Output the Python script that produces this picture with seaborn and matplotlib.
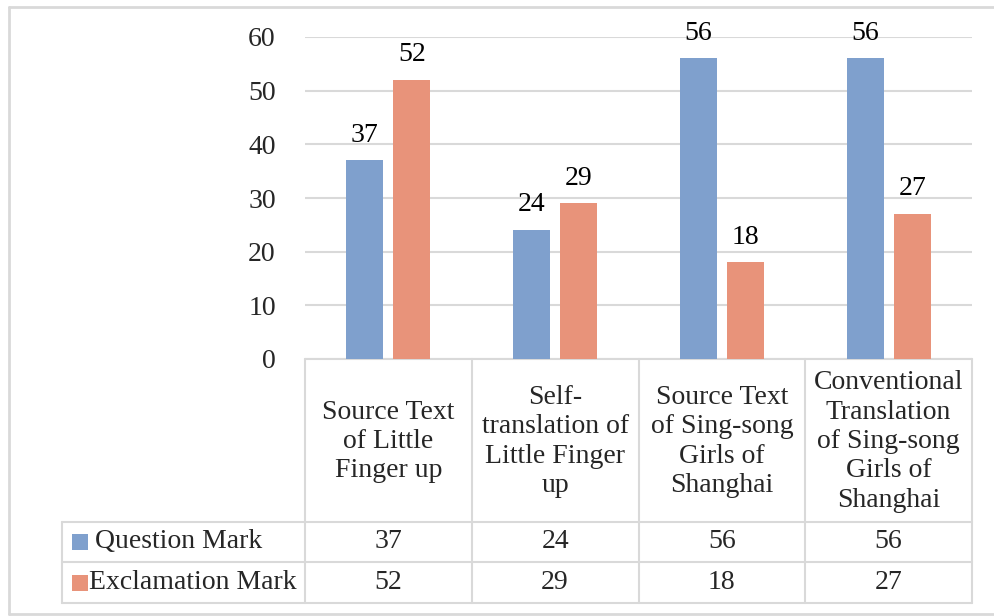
import matplotlib
matplotlib.use("Agg")
import matplotlib.pyplot as plt
import seaborn as sns
import pandas as pd

categories = [
    "Source Text\nof Little\nFinger up",
    "Self-\ntranslation of\nLittle Finger\nup",
    "Source Text\nof Sing-song\nGirls of\nShanghai",
    "Conventional\nTranslation\nof Sing-song\nGirls of\nShanghai",
]
series_names = ["Question Mark", "Exclamation Mark"]
question_mark = [37, 24, 56, 56]
exclamation_mark = [52, 29, 18, 27]
yticks = [0, 10, 20, 30, 40, 50, 60]
colors = ["#7FA0CD", "#E8937A"]

sns.set_theme(style="white")
plt.rcParams["font.family"] = ["Liberation Serif", "DejaVu Serif"]
FS = 20

W, H = 995, 616
fig = plt.figure(figsize=(W / 100, H / 100), dpi=100)

# overlay axes in pixel coordinates for frame and table
ov = fig.add_axes([0, 0, 1, 1], zorder=0)
ov.set_xlim(0, W)
ov.set_ylim(H, 0)
ov.axis("off")

px_l, px_r, px_t, px_b = 305, 972, 37, 359
ax = fig.add_axes([px_l / W, 1 - px_b / H, (px_r - px_l) / W, (px_b - px_t) / H], zorder=2)
ax.patch.set_alpha(0)

df = pd.DataFrame({
    "cat": list(range(len(categories))) * 2,
    "series": [series_names[0]] * len(categories) + [series_names[1]] * len(categories),
    "value": question_mark + exclamation_mark,
})
sns.barplot(data=df, x="cat", y="value", hue="series", hue_order=series_names,
            palette=colors, width=0.564, gap=0.213, saturation=1, ax=ax,
            legend=False, edgecolor="none", zorder=3)

ax.set_xlim(-0.5, len(categories) - 0.5)
ax.set_ylim(0, 60)
ax.set_yticks(yticks)
ax.set_yticklabels([str(v) for v in yticks], fontsize=FS)
ax.tick_params(axis="y", length=0, pad=21)
ax.set_xticks([])
ax.set_xlabel("")
ax.set_ylabel("")
for s in ax.spines.values():
    s.set_visible(False)
ax.grid(axis="y", color="#d9d9d9", linewidth=1.5, zorder=0)
ax.set_axisbelow(True)

for cont in ax.containers:
    for bar in cont:
        h = bar.get_height()
        ax.annotate(f"{int(round(h))}", (bar.get_x() + bar.get_width() / 2, h),
                    xytext=(0, 13.5), textcoords="offset points",
                    ha="center", va="baseline", fontsize=FS, color="#000000",
                    annotation_clip=False)

lc = "#d9d9d9"
# outer frame
ov.plot([9, 9], [7, 614], color=lc, lw=2)
ov.plot([9, W], [7, 7], color=lc, lw=2)
ov.plot([9, W], [614, 614], color=lc, lw=2)

# table
n = len(categories)
colw = (px_r - px_l) / n
xs = [px_l + i * colw for i in range(n + 1)]
row_top, row_hdr, row_mid, row_bot = 359, 522, 562, 603
leg_l = 62
ov.plot([px_l, px_r], [row_top, row_top], color=lc, lw=1.5)
for x in xs:
    ov.plot([x, x], [row_top, row_bot], color=lc, lw=1.5)
for y in (row_hdr, row_mid, row_bot):
    ov.plot([leg_l, px_r], [y, y], color=lc, lw=1.5)
ov.plot([leg_l, leg_l], [row_hdr, row_bot], color=lc, lw=1.5)

for i, c in enumerate(categories):
    ov.text((xs[i] + xs[i + 1]) / 2, (row_top + row_hdr) / 2 + 1, c, ha="center", va="center",
            fontsize=FS, linespacing=1.23, multialignment="center")

rows = [(row_hdr, row_mid), (row_mid, row_bot)]
vals = [question_mark, exclamation_mark]
text_x = [95, 89]
for r, (y0, y1) in enumerate(rows):
    yc = (y0 + y1) / 2
    ov.add_patch(plt.Rectangle((72, yc - 8), 16, 16, color=colors[r], lw=0))
    ov.text(text_x[r], yc, series_names[r], ha="left", va="center", fontsize=FS)
    for i, v in enumerate(vals[r]):
        ov.text((xs[i] + xs[i + 1]) / 2, yc, str(v), ha="center", va="center", fontsize=FS)

fig.savefig("out.png", dpi=100)
